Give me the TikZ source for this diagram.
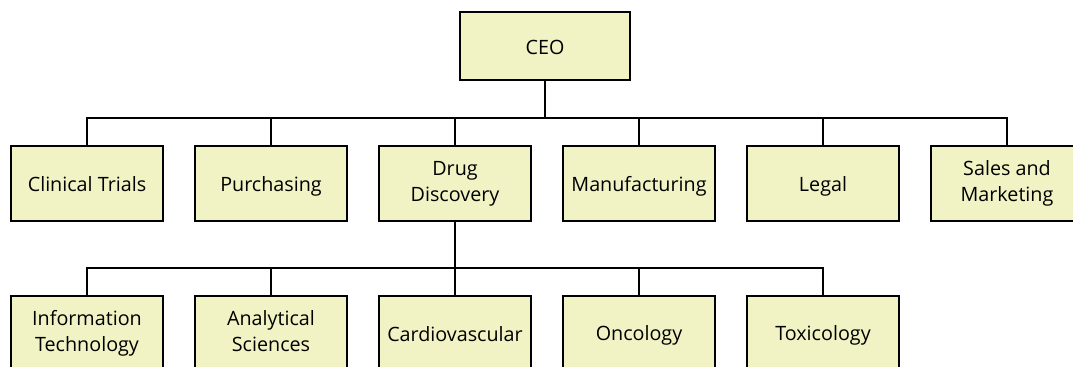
\documentclass[tikz,border=0pt]{standalone}
\usepackage{fontspec}
\setmainfont{Open Sans}
\usepackage{tikz}
\definecolor{boxfill}{RGB}{242,243,196}
\newcommand{\deptstrut}{\rule[-2.4pt]{0pt}{17.5pt}}
\tikzset{
  unit/.style={draw=black,line width=1.6pt,fill=boxfill,align=center,
    font=\fontsize{14.8}{19.5}\selectfont,inner sep=2pt,
    execute at begin node=\deptstrut,execute at end node=\deptstrut},
  dept/.style={unit,minimum width=114pt,minimum height=56pt},
  conn/.style={line width=1.2pt}
}

\begin{document}
\begin{tikzpicture}[x=0.75pt,y=-0.75pt]
       \useasboundingbox (0,0) rectangle (1073,367);
       % top
       \node[unit,minimum width=127pt,minimum height=51pt] (ceo) at (545,46) {CEO};
       % second row
       \node[dept] (clin)  at (87,183.5)   {Clinical Trials};
       \node[dept] (purch) at (271,183.5)  {Purchasing};
       \node[dept] (drug)  at (455,183.5)  {Drug\\Discovery};
       \node[dept] (manu)  at (639,183.5)  {Manufacturing};
       \node[dept] (legal) at (823,183.5)  {Legal};
       \node[dept] (sales) at (1007,183.5) {Sales and\\Marketing};
       % third row
       \node[dept] (info)   at (87,333)  {Information\\Technology};
       \node[dept] (anal)   at (271,333) {Analytical\\Sciences};
       \node[dept] (cardio) at (455,333) {Cardiovascular};
       \node[dept] (onco)   at (639,333) {Oncology};
       \node[dept] (toxi)   at (823,333) {Toxicology};
       \coordinate (bus1) at (545,118);
       \coordinate (bus2) at (455,268);
       \foreach \n in {clin,purch,drug,manu,legal,sales}
         \draw[conn] (ceo.south) -- (bus1) -| (\n.north);
       \foreach \n in {info,anal,cardio,onco,toxi}
         \draw[conn] (drug.south) -- (bus2) -| (\n.north);
      \end{tikzpicture}
\end{document}
